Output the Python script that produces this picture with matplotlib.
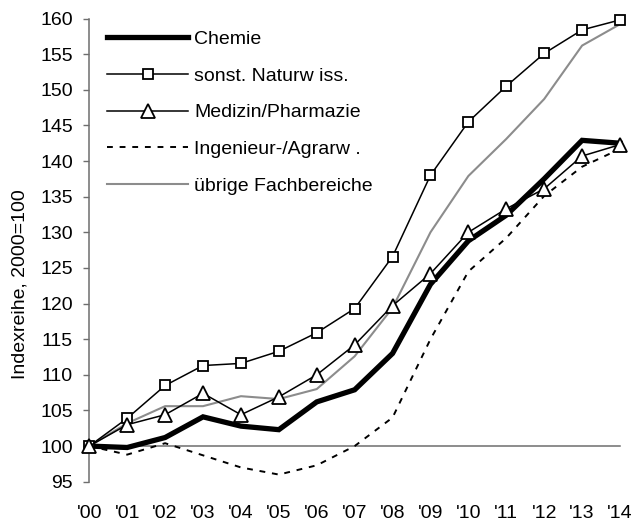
import matplotlib
matplotlib.use("Agg")
import matplotlib.pyplot as plt

plt.rcParams['font.family'] = ['Liberation Sans', 'DejaVu Sans']

years = ["'00", "'01", "'02", "'03", "'04", "'05", "'06", "'07", "'08", "'09", "'10", "'11", "'12", "'13", "'14"]
chemie = [100, 99.8, 101.2, 104.1, 102.8, 102.3, 106.2, 107.9, 113.0, 122.7, 128.8, 132.4, 137.5, 142.9, 142.5]
naturwiss = [100, 103.9, 108.5, 111.3, 111.6, 113.3, 115.9, 119.3, 126.6, 138.0, 145.5, 150.5, 155.1, 158.4, 159.8]
medizin = [100, 103.0, 104.4, 107.4, 104.4, 106.9, 110.0, 114.2, 119.7, 124.2, 130.0, 133.3, 136.1, 140.7, 142.3]
ingenieur = [100, 98.8, 100.4, 98.7, 97.0, 96.0, 97.3, 100.0, 104.0, 115.0, 124.5, 129.2, 135.1, 139.2, 141.7]
uebrige = [100, 103.2, 105.6, 105.6, 107.0, 106.6, 108.0, 112.6, 119.4, 130.0, 137.9, 143.1, 148.7, 156.2, 159.2]
labels = ["Chemie", "sonst. Naturw iss.", "Medizin/Pharmazie", "Ingenieur-/Agrarw .", "übrige Fachbereiche"]
yticks = list(range(95, 161, 5))

W, H = 638, 521
fig = plt.figure(figsize=(W / 100, H / 100), dpi=100)
left, right = 89.3 / W, 620 / W
top, bottom = 1 - 18.5 / H, 1 - 481.7 / H
ax = fig.add_axes([left, bottom, right - left, top - bottom])

x = list(range(len(years)))
axis_col = '#6e6e6e'

# baseline at 100
ax.plot([x[0], x[-1]], [100, 100], color=axis_col, lw=1.1, zorder=1, clip_on=False)

l_ueb, = ax.plot(x, uebrige, color='#8c8c8c', lw=1.5, zorder=2, clip_on=False)
l_ing, = ax.plot(x, ingenieur, color='black', lw=1.4, ls=(0, (3, 3.5)), zorder=3, clip_on=False)
l_che, = ax.plot(x, chemie, color='black', lw=3.8, zorder=4, clip_on=False, solid_joinstyle='miter')
l_nat, = ax.plot(x, naturwiss, color='black', lw=1.1, marker='s', ms=7.5, mfc='white',
                 mec='black', mew=1.3, zorder=5, clip_on=False)
l_med, = ax.plot(x, medizin, color='black', lw=1.1, marker='^', ms=9.5, mfc='white',
                 mec='black', mew=1.3, zorder=6, clip_on=False)

ax.set_xlim(0, 14)
ax.set_ylim(95, 160)
ax.set_yticks(yticks)
ax.set_yticklabels([str(v) for v in yticks], fontsize=14)
ax.set_xticks(x)
ax.set_xticklabels(years, fontsize=14)
ax.tick_params(axis='x', length=0, pad=17)
ax.tick_params(axis='y', direction='out', length=4.3, width=1, color=axis_col, pad=7.6)

for s in ['top', 'right', 'bottom']:
    ax.spines[s].set_visible(False)
ax.spines['left'].set_color(axis_col)
ax.spines['left'].set_linewidth(1.1)

fig.text(20 / W, 1 - 284 / H, "Indexreihe, 2000=100", rotation=90, fontsize=14,
         ha='center', va='center')

leg = ax.legend([l_che, l_nat, l_med, l_ing, l_ueb], labels, loc='upper left',
                bbox_to_anchor=(106.7 / W, 1 - 30.5 / H), bbox_transform=fig.transFigure,
                frameon=False, fontsize=14, handlelength=4.2, handletextpad=0.3,
                labelspacing=0.98, borderpad=0, borderaxespad=0, numpoints=1)

fig.savefig("out.png", dpi=100)
